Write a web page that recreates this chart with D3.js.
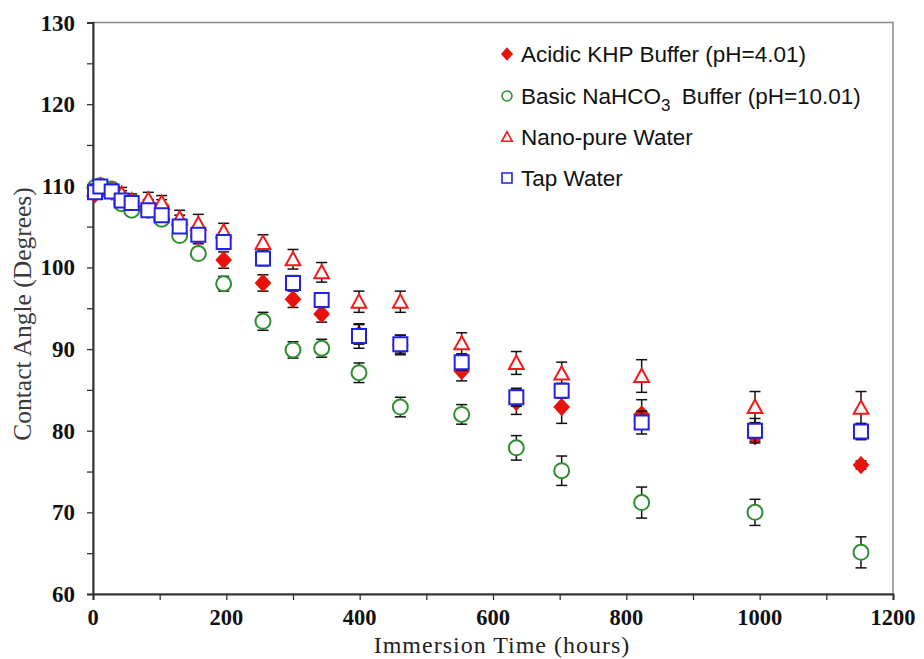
<!DOCTYPE html>
<html>
<head>
<meta charset="utf-8">
<script src="https://cdn.jsdelivr.net/npm/d3@7"></script>
<style>
  body { margin: 0; background: #fff; }
  svg { display: block; }
</style>
</head>
<body>
<svg id="chart"></svg>
<script>
// immersion times (hours)
const hours = [3, 11, 28, 43, 58, 83, 103, 130, 158, 196, 255, 300, 343, 399, 461, 553, 635, 703, 823, 993, 1152];

// contact angle (degrees) per solution
const acidic = [109.0, 109.6, 109.3, 108.7, 108.0, 107.5, 107.5, 105.5, 103.8, 100.9, 98.1, 96.1, 94.3, 91.8, 90.5, 87.3, 83.5, 82.9, 82.0, 79.3, 75.8];
const basic  = [109.8, 110.0, 109.6, 107.8, 107.0, 107.0, 105.9, 103.9, 101.7, 98.0, 93.4, 89.9, 90.1, 87.1, 82.9, 82.0, 77.9, 75.1, 71.2, 70.0, 65.1];
const nano   = [109.5, 110.0, 109.5, 109.0, 108.2, 108.3, 107.9, 106.0, 105.3, 104.4, 103.0, 101.0, 99.4, 95.8, 95.8, 90.7, 88.3, 87.0, 86.7, 82.9, 82.8];
const tap    = [109.2, 109.9, 109.3, 108.2, 107.9, 107.0, 106.4, 105.0, 104.0, 103.1, 101.1, 98.1, 96.0, 91.6, 90.6, 88.4, 84.1, 84.9, 81.0, 80.0, 79.9];

// error bars (+/- degrees)
const acidicErr = [0.6, 0.6, 0.6, 0.7, 0.7, 0.8, 0.8, 0.9, 0.9, 1.0, 1.0, 1.0, 1.0, 1.2, 1.2, 1.2, 1.5, 2.0, 1.8, 0.6, 0.5];
const basicErr  = [0.5, 0.5, 0.5, 0.6, 0.6, 0.6, 0.6, 0.6, 0.7, 0.9, 1.1, 1.0, 1.1, 1.2, 1.2, 1.2, 1.5, 1.8, 1.9, 1.6, 1.9];
const nanoErr   = [0.7, 0.7, 0.7, 0.8, 0.8, 0.9, 0.9, 1.0, 1.2, 1.0, 1.0, 1.2, 1.2, 1.3, 1.3, 1.3, 1.4, 1.4, 2.0, 1.9, 2.0];
const tapErr    = [0.6, 0.6, 0.6, 0.6, 0.6, 0.7, 0.7, 0.8, 0.8, 0.9, 0.9, 0.9, 0.9, 1.5, 1.1, 1.0, 1.1, 0.9, 1.4, 1.5, 1.0];

const labels = ['Acidic KHP Buffer (pH=4.01)', 'Basic NaHCO3 Buffer (pH=10.01)', 'Nano-pure Water', 'Tap Water'];
const xTicks = [0, 200, 400, 600, 800, 1000, 1200];
const yTicks = [60, 70, 80, 90, 100, 110, 120, 130];

const series = [
  {name: labels[0], values: acidic, err: acidicErr, shape: 'diamond', color: '#e8120c', fill: '#e8120c'},
  {name: labels[1], values: basic, err: basicErr, shape: 'circle', color: '#2f8f2f', fill: '#fff'},
  {name: labels[2], values: nano, err: nanoErr, shape: 'triangle', color: '#f21a1a', fill: '#fff'},
  {name: labels[3], values: tap, err: tapErr, shape: 'square', color: '#2222e6', fill: '#fff'}
];

const width = 924, height = 659;
const margin = {top: 22.5, right: 31, bottom: 65, left: 93};

const svg = d3.select('#chart')
  .attr('width', width)
  .attr('height', height);

const x = d3.scaleLinear().domain([0, 1200]).range([margin.left, width - margin.right]);
const y = d3.scaleLinear().domain([60, 130]).range([height - margin.bottom, margin.top]);

// frame (top / right)
svg.append('rect')
  .attr('x', x(0)).attr('y', y(130))
  .attr('width', x(1200) - x(0)).attr('height', y(60) - y(130))
  .attr('fill', 'none').attr('stroke', '#8a8a8a').attr('stroke-width', 1.5);

const serif = '"Liberation Serif", "Times New Roman", serif';

// x axis
const xAxis = svg.append('g')
  .attr('transform', `translate(0,${y(60)})`)
  .call(d3.axisBottom(x).tickValues(d3.range(0, 1201, 100)).tickSize(6).tickFormat(''));
xAxis.select('.domain').attr('stroke', '#333').attr('stroke-width', 2);
xAxis.selectAll('.tick line').attr('stroke', '#333').attr('stroke-width', 1.3);

svg.append('g').selectAll('text')
  .data(xTicks)
  .join('text')
  .attr('x', d => x(d))
  .attr('y', y(60) + 31)
  .attr('text-anchor', 'middle')
  .attr('font-family', serif)
  .attr('font-weight', 'bold')
  .attr('font-size', 22.5)
  .attr('fill', '#111')
  .text(d => d);

// y axis
const yAxis = svg.append('g')
  .attr('transform', `translate(${x(0)},0)`)
  .call(d3.axisLeft(y).tickValues(d3.range(60, 131, 5)).tickSize(6).tickFormat(''));
yAxis.select('.domain').attr('stroke', '#333').attr('stroke-width', 2);
yAxis.selectAll('.tick line').attr('stroke', '#333').attr('stroke-width', 1.3);

svg.append('g').selectAll('text')
  .data(yTicks)
  .join('text')
  .attr('x', x(0) - 18)
  .attr('y', d => y(d))
  .attr('dy', '0.35em')
  .attr('text-anchor', 'end')
  .attr('font-family', serif)
  .attr('font-weight', 'bold')
  .attr('font-size', 23)
  .attr('fill', '#111')
  .text(d => d);

// axis titles
svg.append('text')
  .attr('x', 502)
  .attr('y', 653)
  .attr('text-anchor', 'middle')
  .attr('font-family', serif)
  .attr('font-size', 24)
  .attr('letter-spacing', 1)
  .attr('fill', '#222')
  .text('Immersion Time (hours)');

svg.append('text')
  .attr('transform', 'translate(31,314) rotate(-90)')
  .attr('text-anchor', 'middle')
  .attr('font-family', serif)
  .attr('font-size', 25.5)
  .attr('fill', '#3a3a3a')
  .text('Contact Angle (Degrees)');

function shapePath(shape, s) {
  const h = s / 2;
  if (shape === 'diamond') return `M0,${-h * 1.1}L${h},0L0,${h * 1.1}L${-h},0Z`;
  if (shape === 'triangle') return `M0,${-h * 1.05}L${h * 1.05},${h * 0.85}L${-h * 1.05},${h * 0.85}Z`;
  if (shape === 'square') return `M${-h},${-h}H${h}V${h}H${-h}Z`;
  return d3.symbol(d3.symbolCircle, Math.PI * h * h)();
}

const plot = svg.append('g');
series.forEach(s => {
  const pts = hours.map((t, i) => ({t, v: s.values[i], e: s.err[i]}));
  const g = plot.append('g');

  const eb = g.append('g').attr('stroke', '#111').attr('stroke-width', 1.5);
  eb.selectAll('line.v').data(pts).join('line')
    .attr('x1', d => x(d.t)).attr('x2', d => x(d.t))
    .attr('y1', d => y(d.v - d.e)).attr('y2', d => y(d.v + d.e));
  eb.selectAll('line.top').data(pts).join('line').attr('class', 'top')
    .attr('x1', d => x(d.t) - 5.5).attr('x2', d => x(d.t) + 5.5)
    .attr('y1', d => y(d.v + d.e)).attr('y2', d => y(d.v + d.e));
  eb.selectAll('line.bot').data(pts).join('line').attr('class', 'bot')
    .attr('x1', d => x(d.t) - 5.5).attr('x2', d => x(d.t) + 5.5)
    .attr('y1', d => y(d.v - d.e)).attr('y2', d => y(d.v - d.e));

  g.selectAll('path').data(pts).join('path')
    .attr('transform', d => `translate(${x(d.t)},${y(d.v)})`)
    .attr('d', shapePath(s.shape, s.shape === 'circle' ? 15 : 14))
    .attr('fill', s.fill)
    .attr('stroke', s.color)
    .attr('stroke-width', 2);
});

// legend
const legend = svg.append('g').attr('transform', 'translate(507,0)');
const rowY = [54, 96, 137, 178];
series.forEach((s, i) => {
  const row = legend.append('g').attr('transform', `translate(0,${rowY[i]})`);
  row.append('path')
    .attr('d', shapePath(s.shape, 10))
    .attr('fill', s.fill)
    .attr('stroke', s.color)
    .attr('stroke-width', 1.6);
  const txt = row.append('text')
    .attr('x', 14)
    .attr('dy', '0.36em')
    .attr('font-family', '"Liberation Sans", Arial, sans-serif')
    .attr('font-size', 22.5)
    .attr('fill', '#111');
  if (i === 1) {
    txt.append('tspan').text('Basic NaHCO');
    txt.append('tspan').attr('dy', 7).attr('font-size', 17).text('3');
    txt.append('tspan').attr('dy', -7).attr('xml:space', 'preserve').text('\u2002Buffer (pH=10.01)');
  } else {
    txt.text(s.name);
  }
});
</script>
</body>
</html>
